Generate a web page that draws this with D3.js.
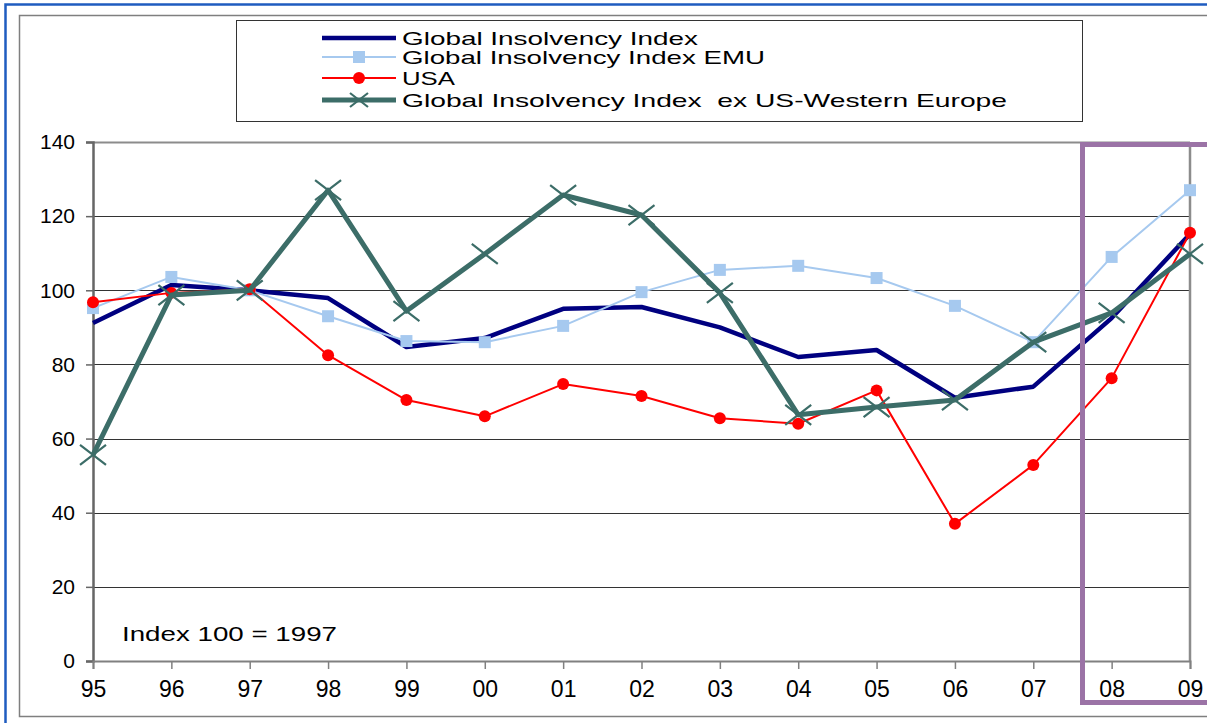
<!DOCTYPE html>
<html>
<head>
<meta charset="utf-8">
<script src="https://cdn.jsdelivr.net/npm/d3@7"></script>
<style>
  body { margin: 0; background: #fff; }
  svg { display: block; font-family: 'Liberation Sans', Arial, sans-serif; }
</style>
</head>
<body>
<div id="wrapper"></div>
<script>
// Data
const years = ['95', '96', '97', '98', '99', '00', '01', '02', '03', '04', '05', '06', '07', '08', '09'];
const globalIndex = [91.2, 101.4, 100, 97.9, 84.7, 87.1, 95, 95.5, 90, 82, 83.9, 71, 74, 92.5, 115.2];
const emuIndex = [95.2, 103.6, 100, 93, 86.3, 86, 90.4, 99.5, 105.5, 106.6, 103.3, 95.8, 86, 109, 127];
const usaIndex = [96.8, 99.3, 100.3, 82.5, 70.4, 66, 74.7, 71.5, 65.5, 64, 73, 37, 52.9, 76.3, 115.5];
const exUsWeIndex = [55.6, 98.7, 100, 127, 94.4, 109.8, 125.7, 120.3, 99.3, 66.4, 68.5, 70.4, 86, 93.9, 109.8];
const yTicks = [0, 20, 40, 60, 80, 100, 120, 140];
const seriesNames = [
  'Global Insolvency Index',
  'Global Insolvency Index EMU',
  'USA',
  'Global Insolvency Index  ex US-Western Europe',
];

const width = 1207;
const height = 723;
const dimensions = {
  width,
  height,
  margin: { top: 142, right: 17, bottom: 62, left: 93 },
};
dimensions.boundedWidth = width - dimensions.margin.left - dimensions.margin.right;
dimensions.boundedHeight = height - dimensions.margin.top - dimensions.margin.bottom;

const series = [
  { name: seriesNames[0], values: globalIndex, color: '#000080', width: 4.5, marker: 'none', textLen: 296 },
  { name: seriesNames[1], values: emuIndex, color: '#a6c9ef', width: 2, marker: 'square', textLen: 363 },
  { name: seriesNames[2], values: usaIndex, color: '#ff0000', width: 2, marker: 'circle', textLen: 53 },
  { name: seriesNames[3], values: exUsWeIndex, color: '#3c6d68', width: 5, marker: 'cross', textLen: 605 },
];

// Scales
const xScale = d3.scalePoint().domain(years).range([0, dimensions.boundedWidth]);
const yScale = d3.scaleLinear().domain([0, 140]).range([dimensions.boundedHeight, 0]);

const svg = d3.select('#wrapper').append('svg')
  .attr('width', width)
  .attr('height', height);

// Outer frames
svg.append('path')
  .attr('d', `M5.5,${height} V4.5 H${width}`)
  .attr('fill', 'none')
  .attr('stroke', '#1f5cc0')
  .attr('stroke-width', 2.5);
svg.append('path')
  .attr('d', `M${width},15.5 H19.5 V716.5 H${width}`)
  .attr('fill', 'none')
  .attr('stroke', '#7f7f7f')
  .attr('stroke-width', 1.5);

const bounds = svg.append('g')
  .attr('transform', `translate(${dimensions.margin.left}, ${dimensions.margin.top})`);

// Gridlines
bounds.append('g')
  .selectAll('line')
  .data(yTicks.slice(1))
  .join('line')
  .attr('x1', 0)
  .attr('x2', dimensions.boundedWidth)
  .attr('y1', (d) => Math.round(yScale(d)) + 0.5)
  .attr('y2', (d) => Math.round(yScale(d)) + 0.5)
  .attr('stroke', (d) => (d === 140 ? '#8c8c8c' : '#333'))
  .attr('stroke-width', (d) => (d === 140 ? 2 : 1));

// right border of plot
bounds.append('line')
  .attr('x1', dimensions.boundedWidth)
  .attr('x2', dimensions.boundedWidth)
  .attr('y1', 0)
  .attr('y2', dimensions.boundedHeight)
  .attr('stroke', '#8c8c8c')
  .attr('stroke-width', 2.5);

// Axes
const yAxis = d3.axisLeft(yScale).tickValues(yTicks).tickSize(7).tickPadding(11);
const yAxisG = bounds.append('g').call(yAxis);
yAxisG.select('.domain').attr('stroke', '#666').attr('stroke-width', 2.5);
yAxisG.selectAll('.tick line').attr('stroke', '#666').attr('stroke-width', 1.5);
yAxisG.selectAll('text').style('font-size', '21px').attr('fill', '#000');

const xAxis = d3.axisBottom(xScale).tickSize(8).tickPadding(12);
const xAxisG = bounds.append('g')
  .attr('transform', `translate(0, ${dimensions.boundedHeight})`)
  .call(xAxis);
xAxisG.select('.domain').attr('stroke', '#808080').attr('stroke-width', 2);
xAxisG.selectAll('.tick line').attr('stroke', '#808080').attr('stroke-width', 1.5);
xAxisG.selectAll('text').style('font-size', '23px').attr('fill', '#000');

// Lines
const line = d3.line()
  .x((d, i) => xScale(years[i]))
  .y((d) => yScale(d));

const markerFns = {
  square: (g, s) => g.append('rect').attr('x', -6).attr('y', -6).attr('width', 12).attr('height', 12).attr('fill', s.color),
  circle: (g, s) => g.append('circle').attr('r', 6).attr('fill', s.color),
  cross: (g, s) => g.append('path').attr('d', 'M-13,-10 L13,10 M-13,10 L13,-10').attr('stroke', s.color).attr('stroke-width', 2.2),
};

series.forEach((s) => {
  bounds.append('path')
    .datum(s.values)
    .attr('d', line)
    .attr('fill', 'none')
    .attr('stroke', s.color)
    .attr('stroke-width', s.width)
    .attr('stroke-linejoin', 'round');
  if (s.marker !== 'none') {
    bounds.append('g')
      .selectAll('g')
      .data(s.values)
      .join('g')
      .attr('transform', (d, i) => `translate(${xScale(years[i])}, ${yScale(d)})`)
      .each(function () { markerFns[s.marker](d3.select(this), s); });
  }
});

// Annotation
bounds.append('text')
  .attr('x', 29)
  .attr('y', yScale(5.5))
  .attr('textLength', 215)
  .attr('lengthAdjust', 'spacingAndGlyphs')
  .style('font-size', '21px')
  .text('Index 100 = 1997');

// Highlight box for 08-09
svg.append('rect')
  .attr('x', 1082.5)
  .attr('y', 144.5)
  .attr('width', 140)
  .attr('height', 558)
  .attr('fill', 'none')
  .attr('stroke', '#9b73a6')
  .attr('stroke-width', 5);

// Legend
const legend = svg.append('g');
legend.append('rect')
  .attr('x', 236.5)
  .attr('y', 20.5)
  .attr('width', 846)
  .attr('height', 101)
  .attr('fill', '#fff')
  .attr('stroke', '#333')
  .attr('stroke-width', 1);

const legendRows = [38, 57, 78, 100];
series.forEach((s, i) => {
  const row = legend.append('g').attr('transform', `translate(0, ${legendRows[i]})`);
  row.append('line')
    .attr('x1', 322)
    .attr('x2', 396)
    .attr('stroke', s.color)
    .attr('stroke-width', s.width);
  if (s.marker !== 'none') {
    const m = row.append('g').attr('transform', 'translate(359, 0)');
    if (s.marker === 'cross') {
      m.append('path').attr('d', 'M-9,-7 L9,7 M-9,7 L9,-7').attr('stroke', s.color).attr('stroke-width', 2.2);
    } else {
      markerFns[s.marker](m, s);
    }
  }
  row.append('text')
    .attr('x', 402)
    .attr('y', 7)
    .attr('textLength', s.textLen)
    .attr('lengthAdjust', 'spacingAndGlyphs')
    .style('white-space', 'pre')
    .style('font-size', '19px')
    .text(s.name);
});
</script>
</body>
</html>
